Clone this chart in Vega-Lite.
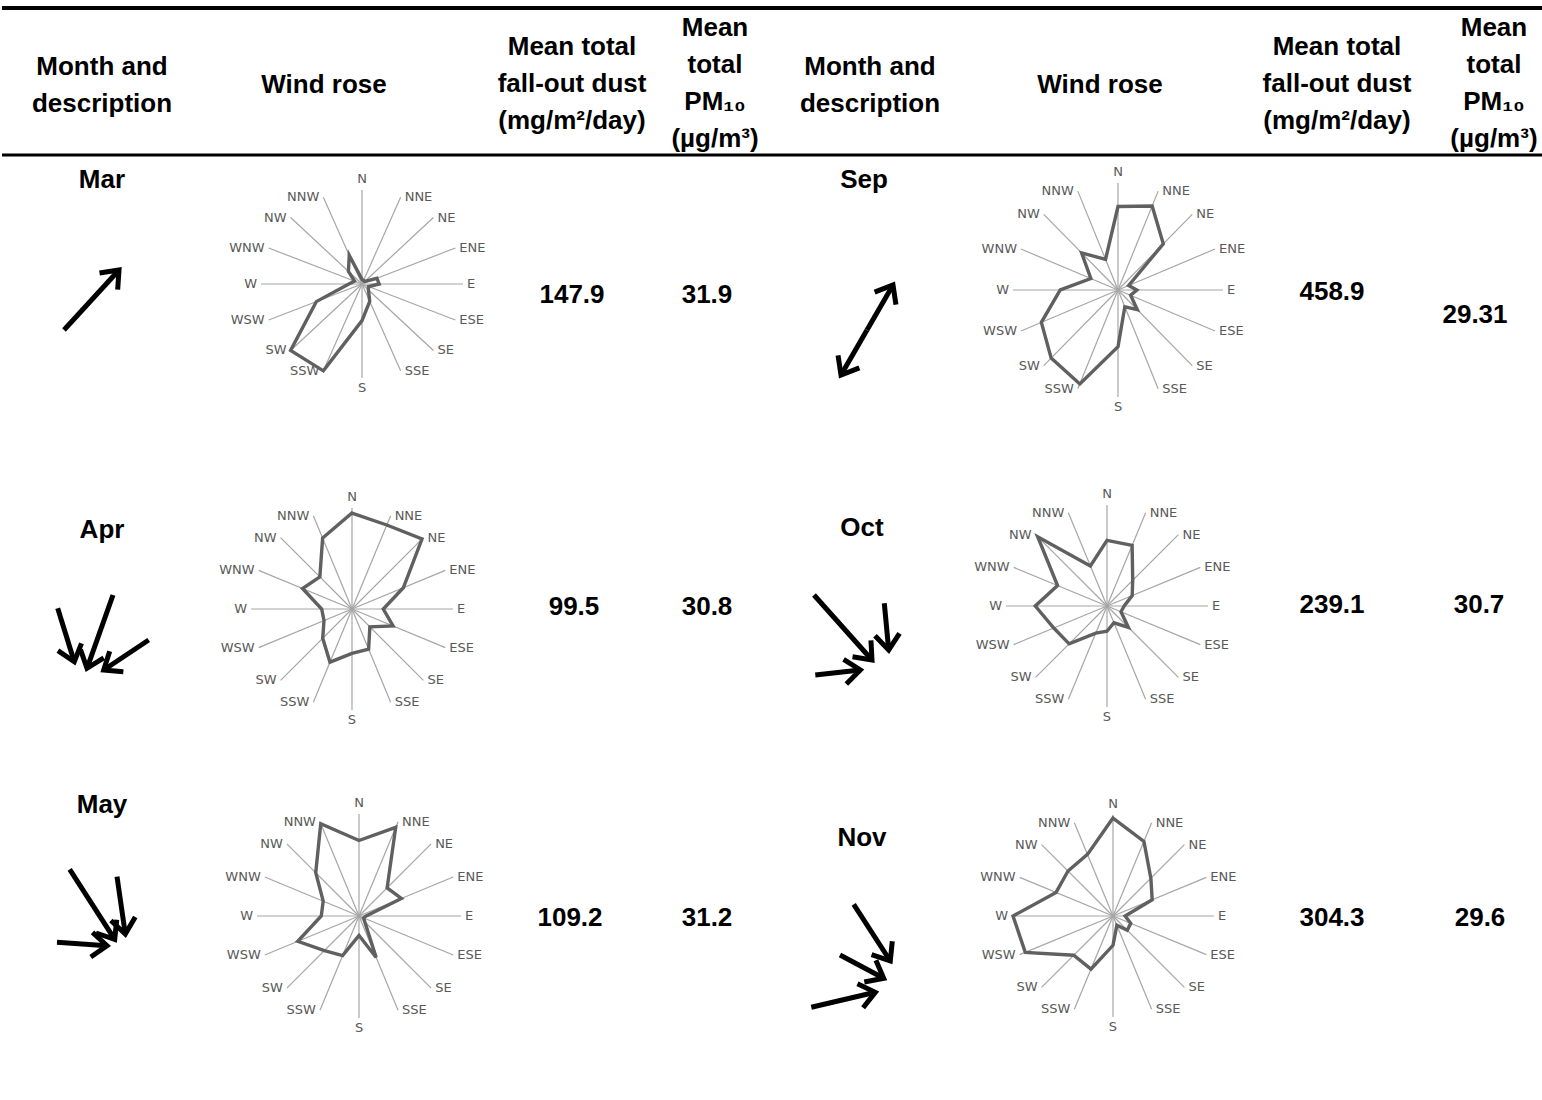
{
"$schema": "https://vega.github.io/schema/vega-lite/v6.json",
"padding": 0,
"spacing": 0,
"bounds": "flush",
"columns": 2,
"background": "white",
"config": {"view": {"stroke": null}, "concat": {"spacing": 0}},
"datasets": {
"hdr": [
{"k":1,"t":"Month and\ndescription"},{"k":2,"t":"Wind rose"},{"k":3,"t":"Mean total\nfall-out dust\n(mg/m²/day)"},{"k":4,"t":"Mean\ntotal\nPM₁₀\n(µg/m³)"},
{"k":5,"t":"Month and\ndescription"},{"k":6,"t":"Wind rose"},{"k":7,"t":"Mean total\nfall-out dust\n(mg/m²/day)"},{"k":8,"t":"Mean\ntotal\nPM₁₀\n(µg/m³)"}
],
"cells": [
{"m":"Mar","dust":"147.9","pm":"31.9"},{"m":"Apr","dust":"99.5","pm":"30.8"},{"m":"May","dust":"109.2","pm":"31.2"},
{"m":"Sep","dust":"458.9","pm":"29.31"},{"m":"Oct","dust":"239.1","pm":"30.7"},{"m":"Nov","dust":"304.3","pm":"29.6"}
],
"dirs": [
{"d":"N","i":0},{"d":"NNE","i":1},{"d":"NE","i":2},{"d":"ENE","i":3},{"d":"E","i":4},{"d":"ESE","i":5},{"d":"SE","i":6},{"d":"SSE","i":7},
{"d":"S","i":8},{"d":"SSW","i":9},{"d":"SW","i":10},{"d":"WSW","i":11},{"d":"W","i":12},{"d":"WNW","i":13},{"d":"NW","i":14},{"d":"NNW","i":15}
],
"rose": [
{"m":"Mar","d":"N","i":0,"v":0.05},{"m":"Mar","d":"NNE","i":1,"v":0.04},{"m":"Mar","d":"NE","i":2,"v":0.04},{"m":"Mar","d":"ENE","i":3,"v":0.16},
{"m":"Mar","d":"E","i":4,"v":0.17},{"m":"Mar","d":"ESE","i":5,"v":0.07},{"m":"Mar","d":"SE","i":6,"v":0.09},{"m":"Mar","d":"SSE","i":7,"v":0.2},
{"m":"Mar","d":"S","i":8,"v":0.39},{"m":"Mar","d":"SSW","i":9,"v":1.0},{"m":"Mar","d":"SW","i":10,"v":1.0},{"m":"Mar","d":"WSW","i":11,"v":0.49},
{"m":"Mar","d":"W","i":12,"v":0.13},{"m":"Mar","d":"WNW","i":13,"v":0.08},{"m":"Mar","d":"NW","i":14,"v":0.19},{"m":"Mar","d":"NNW","i":15,"v":0.33},
{"m":"Apr","d":"N","i":0,"v":0.95},{"m":"Apr","d":"NNE","i":1,"v":0.9},{"m":"Apr","d":"NE","i":2,"v":0.98},{"m":"Apr","d":"ENE","i":3,"v":0.55},
{"m":"Apr","d":"E","i":4,"v":0.31},{"m":"Apr","d":"ESE","i":5,"v":0.44},{"m":"Apr","d":"SE","i":6,"v":0.25},{"m":"Apr","d":"SSE","i":7,"v":0.43},
{"m":"Apr","d":"S","i":8,"v":0.44},{"m":"Apr","d":"SSW","i":9,"v":0.57},{"m":"Apr","d":"SW","i":10,"v":0.41},{"m":"Apr","d":"WSW","i":11,"v":0.3},
{"m":"Apr","d":"W","i":12,"v":0.3},{"m":"Apr","d":"WNW","i":13,"v":0.53},{"m":"Apr","d":"NW","i":14,"v":0.45},{"m":"Apr","d":"NNW","i":15,"v":0.76},
{"m":"May","d":"N","i":0,"v":0.74},{"m":"May","d":"NNE","i":1,"v":0.94},{"m":"May","d":"NE","i":2,"v":0.39},{"m":"May","d":"ENE","i":3,"v":0.45},
{"m":"May","d":"E","i":4,"v":0.07},{"m":"May","d":"ESE","i":5,"v":0.05},{"m":"May","d":"SE","i":6,"v":0.08},{"m":"May","d":"SSE","i":7,"v":0.44},
{"m":"May","d":"S","i":8,"v":0.19},{"m":"May","d":"SSW","i":9,"v":0.42},{"m":"May","d":"SW","i":10,"v":0.48},{"m":"May","d":"WSW","i":11,"v":0.65},
{"m":"May","d":"W","i":12,"v":0.37},{"m":"May","d":"WNW","i":13,"v":0.38},{"m":"May","d":"NW","i":14,"v":0.6},{"m":"May","d":"NNW","i":15,"v":0.98},
{"m":"Sep","d":"N","i":0,"v":0.78},{"m":"Sep","d":"NNE","i":1,"v":0.85},{"m":"Sep","d":"NE","i":2,"v":0.61},{"m":"Sep","d":"ENE","i":3,"v":0.11},
{"m":"Sep","d":"E","i":4,"v":0.18},{"m":"Sep","d":"ESE","i":5,"v":0.13},{"m":"Sep","d":"SE","i":6,"v":0.26},{"m":"Sep","d":"SSE","i":7,"v":0.17},
{"m":"Sep","d":"S","i":8,"v":0.53},{"m":"Sep","d":"SSW","i":9,"v":0.95},{"m":"Sep","d":"SW","i":10,"v":0.9},{"m":"Sep","d":"WSW","i":11,"v":0.79},
{"m":"Sep","d":"W","i":12,"v":0.55},{"m":"Sep","d":"WNW","i":13,"v":0.28},{"m":"Sep","d":"NW","i":14,"v":0.49},{"m":"Sep","d":"NNW","i":15,"v":0.31},
{"m":"Oct","d":"N","i":0,"v":0.65},{"m":"Oct","d":"NNE","i":1,"v":0.65},{"m":"Oct","d":"NE","i":2,"v":0.36},{"m":"Oct","d":"ENE","i":3,"v":0.27},
{"m":"Oct","d":"E","i":4,"v":0.17},{"m":"Oct","d":"ESE","i":5,"v":0.15},{"m":"Oct","d":"SE","i":6,"v":0.3},{"m":"Oct","d":"SSE","i":7,"v":0.18},
{"m":"Oct","d":"S","i":8,"v":0.25},{"m":"Oct","d":"SSW","i":9,"v":0.29},{"m":"Oct","d":"SW","i":10,"v":0.53},{"m":"Oct","d":"WSW","i":11,"v":0.57},
{"m":"Oct","d":"W","i":12,"v":0.71},{"m":"Oct","d":"WNW","i":13,"v":0.53},{"m":"Oct","d":"NW","i":14,"v":0.97},{"m":"Oct","d":"NNW","i":15,"v":0.43},
{"m":"Nov","d":"N","i":0,"v":0.97},{"m":"Nov","d":"NNE","i":1,"v":0.8},{"m":"Nov","d":"NE","i":2,"v":0.53},{"m":"Nov","d":"ENE","i":3,"v":0.42},
{"m":"Nov","d":"E","i":4,"v":0.12},{"m":"Nov","d":"ESE","i":5,"v":0.19},{"m":"Nov","d":"SE","i":6,"v":0.2},{"m":"Nov","d":"SSE","i":7,"v":0.1},
{"m":"Nov","d":"S","i":8,"v":0.29},{"m":"Nov","d":"SSW","i":9,"v":0.57},{"m":"Nov","d":"SW","i":10,"v":0.55},{"m":"Nov","d":"WSW","i":11,"v":0.94},
{"m":"Nov","d":"W","i":12,"v":0.99},{"m":"Nov","d":"WNW","i":13,"v":0.61},{"m":"Nov","d":"NW","i":14,"v":0.63},{"m":"Nov","d":"NNW","i":15,"v":0.66}
],
"arrows": [
{"m":"Mar","x1":-2.9505,"y1":-0.4894,"x2":-2.4059,"y2":0.1489},
{"m":"Apr","x1":-2.9139,"y1":0.0069,"x2":-2.7495,"y2":-0.5218},
{"m":"Apr","x1":-2.3663,"y1":0.1386,"x2":-2.6238,"y2":-0.5871},
{"m":"Apr","x1":-2.0129,"y1":-0.3069,"x2":-2.4584,"y2":-0.604},
{"m":"May","x1":-2.8363,"y1":0.4578,"x2":-2.3951,"y2":-0.2284},
{"m":"May","x1":-2.3725,"y1":0.3853,"x2":-2.2912,"y2":-0.1765},
{"m":"May","x1":-2.9608,"y1":-0.2578,"x2":-2.4706,"y2":-0.2912},
{"m":"Sep","x1":-2.3905,"y1":-0.3738,"x2":-2.1429,"y2":0.0467},
{"m":"Sep","x1":-2.3905,"y1":-0.3738,"x2":-2.6381,"y2":-0.7944},
{"m":"Oct","x1":-2.901,"y1":0.1089,"x2":-2.3267,"y2":-0.5347},
{"m":"Oct","x1":-2.205,"y1":0.0267,"x2":-2.1614,"y2":-0.4356},
{"m":"Oct","x1":-2.8881,"y1":-0.6832,"x2":-2.4426,"y2":-0.6337},
{"m":"Nov","x1":-2.5673,"y1":0.1158,"x2":-2.205,"y2":-0.4455},
{"m":"Nov","x1":-2.703,"y1":-0.3861,"x2":-2.2703,"y2":-0.6168},
{"m":"Nov","x1":-2.9871,"y1":-0.904,"x2":-2.3535,"y2":-0.7554}
]
},
"concat": [
{
"width": 771, "height": 156,
"data": {"name": "hdr"},
"layer": [
{"transform":[{"filter":"datum.k==1"}],"mark":{"type":"rule","color":"black","strokeWidth":4},
 "encoding":{"y":{"datum":0.0513,"type":"quantitative","scale":{"domain":[0,1],"reverse":true,"nice":false,"zero":false},"axis":null}}},
{"transform":[{"filter":"datum.k==1"}],"mark":{"type":"rule","color":"black","strokeWidth":3},
 "encoding":{"y":{"datum":0.9936,"type":"quantitative","axis":null}}},
{"transform":[{"filter":"datum.k==1"}],"mark":{"type":"text","lineBreak":"\n","lineHeight":37,"font":"Liberation Sans","fontSize":26,"fontWeight":"bold","baseline":"middle","align":"center"},
 "encoding":{"x":{"datum":12.97,"type":"quantitative","scale":{"domain":[0,100],"nice":false,"zero":false},"axis":null},"y":{"datum":0.4295,"type":"quantitative","axis":null},"text":{"field":"t"}}},
{"transform":[{"filter":"datum.k==2"}],"mark":{"type":"text","lineBreak":"\n","lineHeight":37,"font":"Liberation Sans","fontSize":26,"fontWeight":"bold","baseline":"middle","align":"center"},
 "encoding":{"x":{"datum":41.76,"type":"quantitative","axis":null},"y":{"datum":0.5449,"type":"quantitative","axis":null},"text":{"field":"t"}}},
{"transform":[{"filter":"datum.k==3"}],"mark":{"type":"text","lineBreak":"\n","lineHeight":37,"font":"Liberation Sans","fontSize":26,"fontWeight":"bold","baseline":"middle","align":"center"},
 "encoding":{"x":{"datum":73.93,"type":"quantitative","axis":null},"y":{"datum":0.3013,"type":"quantitative","axis":null},"text":{"field":"t"}}},
{"transform":[{"filter":"datum.k==4"}],"mark":{"type":"text","lineBreak":"\n","lineHeight":37,"font":"Liberation Sans","fontSize":26,"fontWeight":"bold","baseline":"middle","align":"center"},
 "encoding":{"x":{"datum":92.48,"type":"quantitative","axis":null},"y":{"datum":0.1795,"type":"quantitative","axis":null},"text":{"field":"t"}}}
]
},
{
"width": 771, "height": 156,
"data": {"name": "hdr"},
"layer": [
{"transform":[{"filter":"datum.k==5"}],"mark":{"type":"rule","color":"black","strokeWidth":4},
 "encoding":{"y":{"datum":0.0513,"type":"quantitative","scale":{"domain":[0,1],"reverse":true,"nice":false,"zero":false},"axis":null}}},
{"transform":[{"filter":"datum.k==5"}],"mark":{"type":"rule","color":"black","strokeWidth":3},
 "encoding":{"y":{"datum":0.9936,"type":"quantitative","axis":null}}},
{"transform":[{"filter":"datum.k==5"}],"mark":{"type":"text","lineBreak":"\n","lineHeight":37,"font":"Liberation Sans","fontSize":26,"fontWeight":"bold","baseline":"middle","align":"center"},
 "encoding":{"x":{"datum":12.58,"type":"quantitative","scale":{"domain":[0,100],"nice":false,"zero":false},"axis":null},"y":{"datum":0.4295,"type":"quantitative","axis":null},"text":{"field":"t"}}},
{"transform":[{"filter":"datum.k==6"}],"mark":{"type":"text","lineBreak":"\n","lineHeight":37,"font":"Liberation Sans","fontSize":26,"fontWeight":"bold","baseline":"middle","align":"center"},
 "encoding":{"x":{"datum":42.41,"type":"quantitative","axis":null},"y":{"datum":0.5449,"type":"quantitative","axis":null},"text":{"field":"t"}}},
{"transform":[{"filter":"datum.k==7"}],"mark":{"type":"text","lineBreak":"\n","lineHeight":37,"font":"Liberation Sans","fontSize":26,"fontWeight":"bold","baseline":"middle","align":"center"},
 "encoding":{"x":{"datum":73.15,"type":"quantitative","axis":null},"y":{"datum":0.3013,"type":"quantitative","axis":null},"text":{"field":"t"}}},
{"transform":[{"filter":"datum.k==8"}],"mark":{"type":"text","lineBreak":"\n","lineHeight":37,"font":"Liberation Sans","fontSize":26,"fontWeight":"bold","baseline":"middle","align":"center"},
 "encoding":{"x":{"datum":93.51,"type":"quantitative","axis":null},"y":{"datum":0.1795,"type":"quantitative","axis":null},"text":{"field":"t"}}}
]
},
{"width": 771, "height": 310, "layer": [
{"data":{"name":"dirs"},"transform":[{"calculate":"0","as":"o"},{"calculate":"sin(datum.i*PI/8)","as":"sx"},{"calculate":"cos(datum.i*PI/8)","as":"sy"}],
 "mark":{"type":"rule","color":"#a6a6a6","strokeWidth":1.2},
 "encoding":{"x":{"field":"o","type":"quantitative","scale":{"domain":[-3.5644,4.0693],"nice":false,"zero":false},"axis":null},
  "y":{"field":"o","type":"quantitative","scale":{"domain":[-1.9362,1.3617],"nice":false,"zero":false},"axis":null},
  "x2":{"field":"sx"},"y2":{"field":"sy"}}},
{"data":{"name":"dirs"},"transform":[{"filter":"datum.i>0 && datum.i<8"},{"calculate":"sin(datum.i*PI/8)","as":"sx"},{"calculate":"cos(datum.i*PI/8)","as":"sy"}],
 "mark":{"type":"text","align":"left","baseline":"middle","dx":4,"font":"DejaVu Sans","fontSize":13,"color":"#595959"},
 "encoding":{"x":{"field":"sx","type":"quantitative"},"y":{"field":"sy","type":"quantitative"},"text":{"field":"d"}}},
{"data":{"name":"dirs"},"transform":[{"filter":"datum.i>8"},{"calculate":"sin(datum.i*PI/8)","as":"sx"},{"calculate":"cos(datum.i*PI/8)","as":"sy"}],
 "mark":{"type":"text","align":"right","baseline":"middle","dx":-4,"font":"DejaVu Sans","fontSize":13,"color":"#595959"},
 "encoding":{"x":{"field":"sx","type":"quantitative"},"y":{"field":"sy","type":"quantitative"},"text":{"field":"d"}}},
{"data":{"name":"dirs"},"transform":[{"filter":"datum.i==0"},{"calculate":"sin(datum.i*PI/8)","as":"sx"},{"calculate":"cos(datum.i*PI/8)","as":"sy"}],
 "mark":{"type":"text","align":"center","baseline":"bottom","dy":-4,"font":"DejaVu Sans","fontSize":13,"color":"#595959"},
 "encoding":{"x":{"field":"sx","type":"quantitative"},"y":{"field":"sy","type":"quantitative"},"text":{"field":"d"}}},
{"data":{"name":"dirs"},"transform":[{"filter":"datum.i==8"},{"calculate":"sin(datum.i*PI/8)","as":"sx"},{"calculate":"cos(datum.i*PI/8)","as":"sy"}],
 "mark":{"type":"text","align":"center","baseline":"top","dy":4,"font":"DejaVu Sans","fontSize":13,"color":"#595959"},
 "encoding":{"x":{"field":"sx","type":"quantitative"},"y":{"field":"sy","type":"quantitative"},"text":{"field":"d"}}},
{"data":{"name":"rose"},"transform":[{"filter":"datum.m=='Mar'"},{"calculate":"datum.v*sin(datum.i*PI/8)","as":"px"},{"calculate":"datum.v*cos(datum.i*PI/8)","as":"py"}],
 "mark":{"type":"line","interpolate":"linear-closed","color":"#606060","strokeWidth":3.4},
 "encoding":{"x":{"field":"px","type":"quantitative"},"y":{"field":"py","type":"quantitative"},"order":{"field":"i","type":"quantitative"}}},
{"data":{"name":"cells"},"transform":[{"filter":"datum.m=='Mar'"}],
 "mark":{"type":"text","font":"Liberation Sans","fontSize":26,"fontWeight":"bold","baseline":"middle","align":"center"},
 "encoding":{"x":{"datum":-2.5743,"type":"quantitative"},"y":{"datum":1.1064,"type":"quantitative"},"text":{"field":"m"}}},
{"data":{"name":"cells"},"transform":[{"filter":"datum.m=='Mar'"}],
 "mark":{"type":"text","font":"Liberation Sans","fontSize":26,"fontWeight":"bold","baseline":"middle","align":"center"},
 "encoding":{"x":{"datum":2.0792,"type":"quantitative"},"y":{"datum":-0.117,"type":"quantitative"},"text":{"field":"dust"}}},
{"data":{"name":"cells"},"transform":[{"filter":"datum.m=='Mar'"}],
 "mark":{"type":"text","font":"Liberation Sans","fontSize":26,"fontWeight":"bold","baseline":"middle","align":"center"},
 "encoding":{"x":{"datum":3.4158,"type":"quantitative"},"y":{"datum":-0.117,"type":"quantitative"},"text":{"field":"pm"}}},
{"data":{"name":"arrows"},"transform":[{"filter":"datum.m=='Mar'"}],
 "mark":{"type":"rule","color":"black","strokeWidth":5},
 "encoding":{"x":{"field":"x1","type":"quantitative"},"y":{"field":"y1","type":"quantitative"},"x2":{"field":"x2"},"y2":{"field":"y2"}}},
{"data":{"name":"arrows"},"transform":[{"filter":"datum.m=='Mar'"},{"calculate":"atan2(-(datum.y2-datum.y1)*94,(datum.x2-datum.x1)*101)*180/PI","as":"ha"}],
 "mark":{"type":"point","shape":"M-1,-0.8L0,0L-1,0.8","filled":false,"stroke":"black","strokeWidth":5,"size":950,"opacity":1,"strokeJoin":"miter"},
 "encoding":{"x":{"field":"x2","type":"quantitative"},"y":{"field":"y2","type":"quantitative"},"angle":{"field":"ha","type":"quantitative","scale":null}}}
]},
{"width": 771, "height": 310, "layer": [
{"data":{"name":"dirs"},"transform":[{"calculate":"0","as":"o"},{"calculate":"sin(datum.i*PI/8)","as":"sx"},{"calculate":"cos(datum.i*PI/8)","as":"sy"}],
 "mark":{"type":"rule","color":"#a6a6a6","strokeWidth":1.2},
 "encoding":{"x":{"field":"o","type":"quantitative","scale":{"domain":[-3.2857,4.0571],"nice":false,"zero":false},"axis":null},
  "y":{"field":"o","type":"quantitative","scale":{"domain":[-1.6449,1.2523],"nice":false,"zero":false},"axis":null},
  "x2":{"field":"sx"},"y2":{"field":"sy"}}},
{"data":{"name":"dirs"},"transform":[{"filter":"datum.i>0 && datum.i<8"},{"calculate":"sin(datum.i*PI/8)","as":"sx"},{"calculate":"cos(datum.i*PI/8)","as":"sy"}],
 "mark":{"type":"text","align":"left","baseline":"middle","dx":4,"font":"DejaVu Sans","fontSize":13,"color":"#595959"},
 "encoding":{"x":{"field":"sx","type":"quantitative"},"y":{"field":"sy","type":"quantitative"},"text":{"field":"d"}}},
{"data":{"name":"dirs"},"transform":[{"filter":"datum.i>8"},{"calculate":"sin(datum.i*PI/8)","as":"sx"},{"calculate":"cos(datum.i*PI/8)","as":"sy"}],
 "mark":{"type":"text","align":"right","baseline":"middle","dx":-4,"font":"DejaVu Sans","fontSize":13,"color":"#595959"},
 "encoding":{"x":{"field":"sx","type":"quantitative"},"y":{"field":"sy","type":"quantitative"},"text":{"field":"d"}}},
{"data":{"name":"dirs"},"transform":[{"filter":"datum.i==0"},{"calculate":"sin(datum.i*PI/8)","as":"sx"},{"calculate":"cos(datum.i*PI/8)","as":"sy"}],
 "mark":{"type":"text","align":"center","baseline":"bottom","dy":-4,"font":"DejaVu Sans","fontSize":13,"color":"#595959"},
 "encoding":{"x":{"field":"sx","type":"quantitative"},"y":{"field":"sy","type":"quantitative"},"text":{"field":"d"}}},
{"data":{"name":"dirs"},"transform":[{"filter":"datum.i==8"},{"calculate":"sin(datum.i*PI/8)","as":"sx"},{"calculate":"cos(datum.i*PI/8)","as":"sy"}],
 "mark":{"type":"text","align":"center","baseline":"top","dy":4,"font":"DejaVu Sans","fontSize":13,"color":"#595959"},
 "encoding":{"x":{"field":"sx","type":"quantitative"},"y":{"field":"sy","type":"quantitative"},"text":{"field":"d"}}},
{"data":{"name":"rose"},"transform":[{"filter":"datum.m=='Sep'"},{"calculate":"datum.v*sin(datum.i*PI/8)","as":"px"},{"calculate":"datum.v*cos(datum.i*PI/8)","as":"py"}],
 "mark":{"type":"line","interpolate":"linear-closed","color":"#606060","strokeWidth":3.4},
 "encoding":{"x":{"field":"px","type":"quantitative"},"y":{"field":"py","type":"quantitative"},"order":{"field":"i","type":"quantitative"}}},
{"data":{"name":"cells"},"transform":[{"filter":"datum.m=='Sep'"}],
 "mark":{"type":"text","font":"Liberation Sans","fontSize":26,"fontWeight":"bold","baseline":"middle","align":"center"},
 "encoding":{"x":{"datum":-2.419,"type":"quantitative"},"y":{"datum":1.028,"type":"quantitative"},"text":{"field":"m"}}},
{"data":{"name":"cells"},"transform":[{"filter":"datum.m=='Sep'"}],
 "mark":{"type":"text","font":"Liberation Sans","fontSize":26,"fontWeight":"bold","baseline":"middle","align":"center"},
 "encoding":{"x":{"datum":2.0381,"type":"quantitative"},"y":{"datum":-0.0187,"type":"quantitative"},"text":{"field":"dust"}}},
{"data":{"name":"cells"},"transform":[{"filter":"datum.m=='Sep'"}],
 "mark":{"type":"text","font":"Liberation Sans","fontSize":26,"fontWeight":"bold","baseline":"middle","align":"center"},
 "encoding":{"x":{"datum":3.4,"type":"quantitative"},"y":{"datum":-0.2336,"type":"quantitative"},"text":{"field":"pm"}}},
{"data":{"name":"arrows"},"transform":[{"filter":"datum.m=='Sep'"}],
 "mark":{"type":"rule","color":"black","strokeWidth":5},
 "encoding":{"x":{"field":"x1","type":"quantitative"},"y":{"field":"y1","type":"quantitative"},"x2":{"field":"x2"},"y2":{"field":"y2"}}},
{"data":{"name":"arrows"},"transform":[{"filter":"datum.m=='Sep'"},{"calculate":"atan2(-(datum.y2-datum.y1)*107,(datum.x2-datum.x1)*105)*180/PI","as":"ha"}],
 "mark":{"type":"point","shape":"M-1,-0.8L0,0L-1,0.8","filled":false,"stroke":"black","strokeWidth":5,"size":950,"opacity":1,"strokeJoin":"miter"},
 "encoding":{"x":{"field":"x2","type":"quantitative"},"y":{"field":"y2","type":"quantitative"},"angle":{"field":"ha","type":"quantitative","scale":null}}}
]},
{"width": 771, "height": 310, "layer": [
{"data":{"name":"dirs"},"transform":[{"calculate":"0","as":"o"},{"calculate":"sin(datum.i*PI/8)","as":"sx"},{"calculate":"cos(datum.i*PI/8)","as":"sy"}],
 "mark":{"type":"rule","color":"#a6a6a6","strokeWidth":1.2},
 "encoding":{"x":{"field":"o","type":"quantitative","scale":{"domain":[-3.4653,4.1683],"nice":false,"zero":false},"axis":null},
  "y":{"field":"o","type":"quantitative","scale":{"domain":[-1.6535,1.4158],"nice":false,"zero":false},"axis":null},
  "x2":{"field":"sx"},"y2":{"field":"sy"}}},
{"data":{"name":"dirs"},"transform":[{"filter":"datum.i>0 && datum.i<8"},{"calculate":"sin(datum.i*PI/8)","as":"sx"},{"calculate":"cos(datum.i*PI/8)","as":"sy"}],
 "mark":{"type":"text","align":"left","baseline":"middle","dx":4,"font":"DejaVu Sans","fontSize":13,"color":"#595959"},
 "encoding":{"x":{"field":"sx","type":"quantitative"},"y":{"field":"sy","type":"quantitative"},"text":{"field":"d"}}},
{"data":{"name":"dirs"},"transform":[{"filter":"datum.i>8"},{"calculate":"sin(datum.i*PI/8)","as":"sx"},{"calculate":"cos(datum.i*PI/8)","as":"sy"}],
 "mark":{"type":"text","align":"right","baseline":"middle","dx":-4,"font":"DejaVu Sans","fontSize":13,"color":"#595959"},
 "encoding":{"x":{"field":"sx","type":"quantitative"},"y":{"field":"sy","type":"quantitative"},"text":{"field":"d"}}},
{"data":{"name":"dirs"},"transform":[{"filter":"datum.i==0"},{"calculate":"sin(datum.i*PI/8)","as":"sx"},{"calculate":"cos(datum.i*PI/8)","as":"sy"}],
 "mark":{"type":"text","align":"center","baseline":"bottom","dy":-4,"font":"DejaVu Sans","fontSize":13,"color":"#595959"},
 "encoding":{"x":{"field":"sx","type":"quantitative"},"y":{"field":"sy","type":"quantitative"},"text":{"field":"d"}}},
{"data":{"name":"dirs"},"transform":[{"filter":"datum.i==8"},{"calculate":"sin(datum.i*PI/8)","as":"sx"},{"calculate":"cos(datum.i*PI/8)","as":"sy"}],
 "mark":{"type":"text","align":"center","baseline":"top","dy":4,"font":"DejaVu Sans","fontSize":13,"color":"#595959"},
 "encoding":{"x":{"field":"sx","type":"quantitative"},"y":{"field":"sy","type":"quantitative"},"text":{"field":"d"}}},
{"data":{"name":"rose"},"transform":[{"filter":"datum.m=='Apr'"},{"calculate":"datum.v*sin(datum.i*PI/8)","as":"px"},{"calculate":"datum.v*cos(datum.i*PI/8)","as":"py"}],
 "mark":{"type":"line","interpolate":"linear-closed","color":"#606060","strokeWidth":3.4},
 "encoding":{"x":{"field":"px","type":"quantitative"},"y":{"field":"py","type":"quantitative"},"order":{"field":"i","type":"quantitative"}}},
{"data":{"name":"cells"},"transform":[{"filter":"datum.m=='Apr'"}],
 "mark":{"type":"text","font":"Liberation Sans","fontSize":26,"fontWeight":"bold","baseline":"middle","align":"center"},
 "encoding":{"x":{"datum":-2.4752,"type":"quantitative"},"y":{"datum":0.7822,"type":"quantitative"},"text":{"field":"m"}}},
{"data":{"name":"cells"},"transform":[{"filter":"datum.m=='Apr'"}],
 "mark":{"type":"text","font":"Liberation Sans","fontSize":26,"fontWeight":"bold","baseline":"middle","align":"center"},
 "encoding":{"x":{"datum":2.198,"type":"quantitative"},"y":{"datum":0.0198,"type":"quantitative"},"text":{"field":"dust"}}},
{"data":{"name":"cells"},"transform":[{"filter":"datum.m=='Apr'"}],
 "mark":{"type":"text","font":"Liberation Sans","fontSize":26,"fontWeight":"bold","baseline":"middle","align":"center"},
 "encoding":{"x":{"datum":3.5149,"type":"quantitative"},"y":{"datum":0.0198,"type":"quantitative"},"text":{"field":"pm"}}},
{"data":{"name":"arrows"},"transform":[{"filter":"datum.m=='Apr'"}],
 "mark":{"type":"rule","color":"black","strokeWidth":5},
 "encoding":{"x":{"field":"x1","type":"quantitative"},"y":{"field":"y1","type":"quantitative"},"x2":{"field":"x2"},"y2":{"field":"y2"}}},
{"data":{"name":"arrows"},"transform":[{"filter":"datum.m=='Apr'"},{"calculate":"atan2(-(datum.y2-datum.y1)*101,(datum.x2-datum.x1)*101)*180/PI","as":"ha"}],
 "mark":{"type":"point","shape":"M-1,-0.8L0,0L-1,0.8","filled":false,"stroke":"black","strokeWidth":5,"size":950,"opacity":1,"strokeJoin":"miter"},
 "encoding":{"x":{"field":"x2","type":"quantitative"},"y":{"field":"y2","type":"quantitative"},"angle":{"field":"ha","type":"quantitative","scale":null}}}
]},
{"width": 771, "height": 310, "layer": [
{"data":{"name":"dirs"},"transform":[{"calculate":"0","as":"o"},{"calculate":"sin(datum.i*PI/8)","as":"sx"},{"calculate":"cos(datum.i*PI/8)","as":"sy"}],
 "mark":{"type":"rule","color":"#a6a6a6","strokeWidth":1.2},
 "encoding":{"x":{"field":"o","type":"quantitative","scale":{"domain":[-3.3069,4.3267],"nice":false,"zero":false},"axis":null},
  "y":{"field":"o","type":"quantitative","scale":{"domain":[-1.6832,1.3861],"nice":false,"zero":false},"axis":null},
  "x2":{"field":"sx"},"y2":{"field":"sy"}}},
{"data":{"name":"dirs"},"transform":[{"filter":"datum.i>0 && datum.i<8"},{"calculate":"sin(datum.i*PI/8)","as":"sx"},{"calculate":"cos(datum.i*PI/8)","as":"sy"}],
 "mark":{"type":"text","align":"left","baseline":"middle","dx":4,"font":"DejaVu Sans","fontSize":13,"color":"#595959"},
 "encoding":{"x":{"field":"sx","type":"quantitative"},"y":{"field":"sy","type":"quantitative"},"text":{"field":"d"}}},
{"data":{"name":"dirs"},"transform":[{"filter":"datum.i>8"},{"calculate":"sin(datum.i*PI/8)","as":"sx"},{"calculate":"cos(datum.i*PI/8)","as":"sy"}],
 "mark":{"type":"text","align":"right","baseline":"middle","dx":-4,"font":"DejaVu Sans","fontSize":13,"color":"#595959"},
 "encoding":{"x":{"field":"sx","type":"quantitative"},"y":{"field":"sy","type":"quantitative"},"text":{"field":"d"}}},
{"data":{"name":"dirs"},"transform":[{"filter":"datum.i==0"},{"calculate":"sin(datum.i*PI/8)","as":"sx"},{"calculate":"cos(datum.i*PI/8)","as":"sy"}],
 "mark":{"type":"text","align":"center","baseline":"bottom","dy":-4,"font":"DejaVu Sans","fontSize":13,"color":"#595959"},
 "encoding":{"x":{"field":"sx","type":"quantitative"},"y":{"field":"sy","type":"quantitative"},"text":{"field":"d"}}},
{"data":{"name":"dirs"},"transform":[{"filter":"datum.i==8"},{"calculate":"sin(datum.i*PI/8)","as":"sx"},{"calculate":"cos(datum.i*PI/8)","as":"sy"}],
 "mark":{"type":"text","align":"center","baseline":"top","dy":4,"font":"DejaVu Sans","fontSize":13,"color":"#595959"},
 "encoding":{"x":{"field":"sx","type":"quantitative"},"y":{"field":"sy","type":"quantitative"},"text":{"field":"d"}}},
{"data":{"name":"rose"},"transform":[{"filter":"datum.m=='Oct'"},{"calculate":"datum.v*sin(datum.i*PI/8)","as":"px"},{"calculate":"datum.v*cos(datum.i*PI/8)","as":"py"}],
 "mark":{"type":"line","interpolate":"linear-closed","color":"#606060","strokeWidth":3.4},
 "encoding":{"x":{"field":"px","type":"quantitative"},"y":{"field":"py","type":"quantitative"},"order":{"field":"i","type":"quantitative"}}},
{"data":{"name":"cells"},"transform":[{"filter":"datum.m=='Oct'"}],
 "mark":{"type":"text","font":"Liberation Sans","fontSize":26,"fontWeight":"bold","baseline":"middle","align":"center"},
 "encoding":{"x":{"datum":-2.4257,"type":"quantitative"},"y":{"datum":0.7723,"type":"quantitative"},"text":{"field":"m"}}},
{"data":{"name":"cells"},"transform":[{"filter":"datum.m=='Oct'"}],
 "mark":{"type":"text","font":"Liberation Sans","fontSize":26,"fontWeight":"bold","baseline":"middle","align":"center"},
 "encoding":{"x":{"datum":2.2277,"type":"quantitative"},"y":{"datum":0.0099,"type":"quantitative"},"text":{"field":"dust"}}},
{"data":{"name":"cells"},"transform":[{"filter":"datum.m=='Oct'"}],
 "mark":{"type":"text","font":"Liberation Sans","fontSize":26,"fontWeight":"bold","baseline":"middle","align":"center"},
 "encoding":{"x":{"datum":3.6832,"type":"quantitative"},"y":{"datum":0.0099,"type":"quantitative"},"text":{"field":"pm"}}},
{"data":{"name":"arrows"},"transform":[{"filter":"datum.m=='Oct'"}],
 "mark":{"type":"rule","color":"black","strokeWidth":5},
 "encoding":{"x":{"field":"x1","type":"quantitative"},"y":{"field":"y1","type":"quantitative"},"x2":{"field":"x2"},"y2":{"field":"y2"}}},
{"data":{"name":"arrows"},"transform":[{"filter":"datum.m=='Oct'"},{"calculate":"atan2(-(datum.y2-datum.y1)*101,(datum.x2-datum.x1)*101)*180/PI","as":"ha"}],
 "mark":{"type":"point","shape":"M-1,-0.8L0,0L-1,0.8","filled":false,"stroke":"black","strokeWidth":5,"size":950,"opacity":1,"strokeJoin":"miter"},
 "encoding":{"x":{"field":"x2","type":"quantitative"},"y":{"field":"y2","type":"quantitative"},"angle":{"field":"ha","type":"quantitative","scale":null}}}
]},
{"width": 771, "height": 310, "layer": [
{"data":{"name":"dirs"},"transform":[{"calculate":"0","as":"o"},{"calculate":"sin(datum.i*PI/8)","as":"sx"},{"calculate":"cos(datum.i*PI/8)","as":"sy"}],
 "mark":{"type":"rule","color":"#a6a6a6","strokeWidth":1.2},
 "encoding":{"x":{"field":"o","type":"quantitative","scale":{"domain":[-3.5,4.0588],"nice":false,"zero":false},"axis":null},
  "y":{"field":"o","type":"quantitative","scale":{"domain":[-1.6667,1.3725],"nice":false,"zero":false},"axis":null},
  "x2":{"field":"sx"},"y2":{"field":"sy"}}},
{"data":{"name":"dirs"},"transform":[{"filter":"datum.i>0 && datum.i<8"},{"calculate":"sin(datum.i*PI/8)","as":"sx"},{"calculate":"cos(datum.i*PI/8)","as":"sy"}],
 "mark":{"type":"text","align":"left","baseline":"middle","dx":4,"font":"DejaVu Sans","fontSize":13,"color":"#595959"},
 "encoding":{"x":{"field":"sx","type":"quantitative"},"y":{"field":"sy","type":"quantitative"},"text":{"field":"d"}}},
{"data":{"name":"dirs"},"transform":[{"filter":"datum.i>8"},{"calculate":"sin(datum.i*PI/8)","as":"sx"},{"calculate":"cos(datum.i*PI/8)","as":"sy"}],
 "mark":{"type":"text","align":"right","baseline":"middle","dx":-4,"font":"DejaVu Sans","fontSize":13,"color":"#595959"},
 "encoding":{"x":{"field":"sx","type":"quantitative"},"y":{"field":"sy","type":"quantitative"},"text":{"field":"d"}}},
{"data":{"name":"dirs"},"transform":[{"filter":"datum.i==0"},{"calculate":"sin(datum.i*PI/8)","as":"sx"},{"calculate":"cos(datum.i*PI/8)","as":"sy"}],
 "mark":{"type":"text","align":"center","baseline":"bottom","dy":-4,"font":"DejaVu Sans","fontSize":13,"color":"#595959"},
 "encoding":{"x":{"field":"sx","type":"quantitative"},"y":{"field":"sy","type":"quantitative"},"text":{"field":"d"}}},
{"data":{"name":"dirs"},"transform":[{"filter":"datum.i==8"},{"calculate":"sin(datum.i*PI/8)","as":"sx"},{"calculate":"cos(datum.i*PI/8)","as":"sy"}],
 "mark":{"type":"text","align":"center","baseline":"top","dy":4,"font":"DejaVu Sans","fontSize":13,"color":"#595959"},
 "encoding":{"x":{"field":"sx","type":"quantitative"},"y":{"field":"sy","type":"quantitative"},"text":{"field":"d"}}},
{"data":{"name":"rose"},"transform":[{"filter":"datum.m=='May'"},{"calculate":"datum.v*sin(datum.i*PI/8)","as":"px"},{"calculate":"datum.v*cos(datum.i*PI/8)","as":"py"}],
 "mark":{"type":"line","interpolate":"linear-closed","color":"#606060","strokeWidth":3.4},
 "encoding":{"x":{"field":"px","type":"quantitative"},"y":{"field":"py","type":"quantitative"},"order":{"field":"i","type":"quantitative"}}},
{"data":{"name":"cells"},"transform":[{"filter":"datum.m=='May'"}],
 "mark":{"type":"text","font":"Liberation Sans","fontSize":26,"fontWeight":"bold","baseline":"middle","align":"center"},
 "encoding":{"x":{"datum":-2.5196,"type":"quantitative"},"y":{"datum":1.0882,"type":"quantitative"},"text":{"field":"m"}}},
{"data":{"name":"cells"},"transform":[{"filter":"datum.m=='May'"}],
 "mark":{"type":"text","font":"Liberation Sans","fontSize":26,"fontWeight":"bold","baseline":"middle","align":"center"},
 "encoding":{"x":{"datum":2.0686,"type":"quantitative"},"y":{"datum":-0.0196,"type":"quantitative"},"text":{"field":"dust"}}},
{"data":{"name":"cells"},"transform":[{"filter":"datum.m=='May'"}],
 "mark":{"type":"text","font":"Liberation Sans","fontSize":26,"fontWeight":"bold","baseline":"middle","align":"center"},
 "encoding":{"x":{"datum":3.4118,"type":"quantitative"},"y":{"datum":-0.0196,"type":"quantitative"},"text":{"field":"pm"}}},
{"data":{"name":"arrows"},"transform":[{"filter":"datum.m=='May'"}],
 "mark":{"type":"rule","color":"black","strokeWidth":5},
 "encoding":{"x":{"field":"x1","type":"quantitative"},"y":{"field":"y1","type":"quantitative"},"x2":{"field":"x2"},"y2":{"field":"y2"}}},
{"data":{"name":"arrows"},"transform":[{"filter":"datum.m=='May'"},{"calculate":"atan2(-(datum.y2-datum.y1)*102,(datum.x2-datum.x1)*102)*180/PI","as":"ha"}],
 "mark":{"type":"point","shape":"M-1,-0.8L0,0L-1,0.8","filled":false,"stroke":"black","strokeWidth":5,"size":950,"opacity":1,"strokeJoin":"miter"},
 "encoding":{"x":{"field":"x2","type":"quantitative"},"y":{"field":"y2","type":"quantitative"},"angle":{"field":"ha","type":"quantitative","scale":null}}}
]},
{"width": 771, "height": 310, "layer": [
{"data":{"name":"dirs"},"transform":[{"calculate":"0","as":"o"},{"calculate":"sin(datum.i*PI/8)","as":"sx"},{"calculate":"cos(datum.i*PI/8)","as":"sy"}],
 "mark":{"type":"rule","color":"#a6a6a6","strokeWidth":1.2},
 "encoding":{"x":{"field":"o","type":"quantitative","scale":{"domain":[-3.3663,4.2673],"nice":false,"zero":false},"axis":null},
  "y":{"field":"o","type":"quantitative","scale":{"domain":[-1.6832,1.3861],"nice":false,"zero":false},"axis":null},
  "x2":{"field":"sx"},"y2":{"field":"sy"}}},
{"data":{"name":"dirs"},"transform":[{"filter":"datum.i>0 && datum.i<8"},{"calculate":"sin(datum.i*PI/8)","as":"sx"},{"calculate":"cos(datum.i*PI/8)","as":"sy"}],
 "mark":{"type":"text","align":"left","baseline":"middle","dx":4,"font":"DejaVu Sans","fontSize":13,"color":"#595959"},
 "encoding":{"x":{"field":"sx","type":"quantitative"},"y":{"field":"sy","type":"quantitative"},"text":{"field":"d"}}},
{"data":{"name":"dirs"},"transform":[{"filter":"datum.i>8"},{"calculate":"sin(datum.i*PI/8)","as":"sx"},{"calculate":"cos(datum.i*PI/8)","as":"sy"}],
 "mark":{"type":"text","align":"right","baseline":"middle","dx":-4,"font":"DejaVu Sans","fontSize":13,"color":"#595959"},
 "encoding":{"x":{"field":"sx","type":"quantitative"},"y":{"field":"sy","type":"quantitative"},"text":{"field":"d"}}},
{"data":{"name":"dirs"},"transform":[{"filter":"datum.i==0"},{"calculate":"sin(datum.i*PI/8)","as":"sx"},{"calculate":"cos(datum.i*PI/8)","as":"sy"}],
 "mark":{"type":"text","align":"center","baseline":"bottom","dy":-4,"font":"DejaVu Sans","fontSize":13,"color":"#595959"},
 "encoding":{"x":{"field":"sx","type":"quantitative"},"y":{"field":"sy","type":"quantitative"},"text":{"field":"d"}}},
{"data":{"name":"dirs"},"transform":[{"filter":"datum.i==8"},{"calculate":"sin(datum.i*PI/8)","as":"sx"},{"calculate":"cos(datum.i*PI/8)","as":"sy"}],
 "mark":{"type":"text","align":"center","baseline":"top","dy":4,"font":"DejaVu Sans","fontSize":13,"color":"#595959"},
 "encoding":{"x":{"field":"sx","type":"quantitative"},"y":{"field":"sy","type":"quantitative"},"text":{"field":"d"}}},
{"data":{"name":"rose"},"transform":[{"filter":"datum.m=='Nov'"},{"calculate":"datum.v*sin(datum.i*PI/8)","as":"px"},{"calculate":"datum.v*cos(datum.i*PI/8)","as":"py"}],
 "mark":{"type":"line","interpolate":"linear-closed","color":"#606060","strokeWidth":3.4},
 "encoding":{"x":{"field":"px","type":"quantitative"},"y":{"field":"py","type":"quantitative"},"order":{"field":"i","type":"quantitative"}}},
{"data":{"name":"cells"},"transform":[{"filter":"datum.m=='Nov'"}],
 "mark":{"type":"text","font":"Liberation Sans","fontSize":26,"fontWeight":"bold","baseline":"middle","align":"center"},
 "encoding":{"x":{"datum":-2.4851,"type":"quantitative"},"y":{"datum":0.7723,"type":"quantitative"},"text":{"field":"m"}}},
{"data":{"name":"cells"},"transform":[{"filter":"datum.m=='Nov'"}],
 "mark":{"type":"text","font":"Liberation Sans","fontSize":26,"fontWeight":"bold","baseline":"middle","align":"center"},
 "encoding":{"x":{"datum":2.1683,"type":"quantitative"},"y":{"datum":-0.0198,"type":"quantitative"},"text":{"field":"dust"}}},
{"data":{"name":"cells"},"transform":[{"filter":"datum.m=='Nov'"}],
 "mark":{"type":"text","font":"Liberation Sans","fontSize":26,"fontWeight":"bold","baseline":"middle","align":"center"},
 "encoding":{"x":{"datum":3.6337,"type":"quantitative"},"y":{"datum":-0.0198,"type":"quantitative"},"text":{"field":"pm"}}},
{"data":{"name":"arrows"},"transform":[{"filter":"datum.m=='Nov'"}],
 "mark":{"type":"rule","color":"black","strokeWidth":5},
 "encoding":{"x":{"field":"x1","type":"quantitative"},"y":{"field":"y1","type":"quantitative"},"x2":{"field":"x2"},"y2":{"field":"y2"}}},
{"data":{"name":"arrows"},"transform":[{"filter":"datum.m=='Nov'"},{"calculate":"atan2(-(datum.y2-datum.y1)*101,(datum.x2-datum.x1)*101)*180/PI","as":"ha"}],
 "mark":{"type":"point","shape":"M-1,-0.8L0,0L-1,0.8","filled":false,"stroke":"black","strokeWidth":5,"size":950,"opacity":1,"strokeJoin":"miter"},
 "encoding":{"x":{"field":"x2","type":"quantitative"},"y":{"field":"y2","type":"quantitative"},"angle":{"field":"ha","type":"quantitative","scale":null}}}
]}
]
}
